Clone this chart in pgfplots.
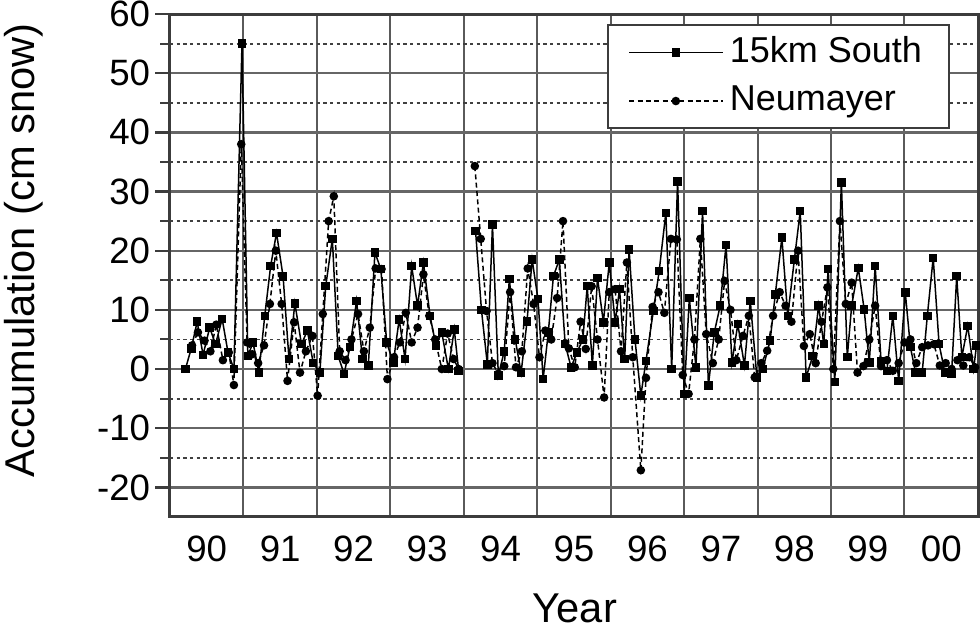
\documentclass[border=0pt]{standalone}
\usepackage{fontspec}
\setmainfont{Liberation Sans}
\usepackage{pgfplots}
\pgfplotsset{compat=1.18}
\definecolor{gridgray}{HTML}{5A5A5A}
\definecolor{framegray}{HTML}{3C3C3C}

\begin{document}
\begin{tikzpicture}
% picture frame: 980 x 630 px at 0.3pt per px
\path[use as bounding box] (-51pt,-33.9pt) rectangle (243pt,155.1pt);
\begin{axis}[
    scale only axis,
    width=242.4pt, height=150.9pt,
    xmin=1990, xmax=2001, ymin=-25, ymax=60,
    axis line style={framegray, line width=0.9pt},
    xtick={1990.5,1991.5,1992.5,1993.5,1994.5,1995.5,1996.5,1997.5,1998.5,1999.5,2000.5},
    xticklabels={90,91,92,93,94,95,96,97,98,99,00},
    minor xtick={1991,1992,...,2000},
    ytick={-20,-10,...,60},
    yticklabels={-20,-10,0,10,20,30,40,50,60},
    minor ytick={-15,-5,...,55},
    xmajorgrids=false, xminorgrids=true,
    ymajorgrids=true, yminorgrids=true,
    minor x grid style={gridgray, line width=0.6pt},
    major y grid style={gray!80!black, line width=0.7pt},
    minor y grid style={black!75, line width=0.55pt, dash pattern=on 1pt off 1pt},
    tick align=outside,
    xtick pos=bottom, ytick pos=left,
    xtick style={/pgfplots/major tick length=0pt},
    minor x tick style={/pgfplots/minor tick length=0pt},
    ytick style={framegray, line width=0.7pt, /pgfplots/major tick length=4.5pt},
    minor y tick style={framegray, line width=0.6pt, /pgfplots/minor tick length=3pt},
    /pgf/number format/assume math mode=true,
    ticklabel style={font=\fontsize{11}{13}\selectfont},
    yticklabel style={inner xsep=1.5pt},
    xticklabel style={yshift=2.1pt},
    xlabel={Year},
    ylabel={Accumulation (cm snow)},
    label style={font=\fontsize{12.5}{15}\selectfont},
    xlabel style={at={(axis description cs:0.501,-0.181)}, anchor=center, inner sep=1pt},
    ylabel style={at={(axis description cs:-0.181,0.53)}, anchor=center, rotate=0},
    unbounded coords=jump,
    legend style={at={(0.965,0.980)}, anchor=north east, draw=framegray,
        line width=0.6pt, font=\fontsize{10.8}{13}\selectfont,
        inner xsep=6pt, inner ysep=1.5pt, row sep=1.5pt, fill=white},
    legend cell align=left,
    legend image code/.code={\draw[mark repeat=2, mark phase=2, #1]
        plot coordinates {(0pt,0pt) (14pt,0pt) (28pt,0pt)};},
]
% 15km South
\addplot[black, line width=0.45pt, mark=square*, mark size=1.05pt,
    mark options={solid}] coordinates {
(1990.21,0.0) (1990.29,3.5) (1990.37,8.0) (1990.45,2.4) (1990.54,7.0)
(1990.62,4.2) (1990.71,8.5) (1990.79,2.8) (1990.87,0.0) (1990.98,55.0)
(1991.06,2.2) (1991.13,4.5) (1991.21,-0.6) (1991.29,9.0) (1991.37,17.4)
(1991.45,23.0) (1991.54,15.6) (1991.62,1.7) (1991.70,11.1) (1991.79,4.2)
(1991.87,6.5) (1991.95,1.0) (1992.04,-0.6) (1992.12,14.0) (1992.21,22.0)
(1992.29,2.2) (1992.37,-0.8) (1992.45,3.7) (1992.54,11.5) (1992.62,1.7)
(1992.70,0.6) (1992.79,19.7) (1992.87,16.9) (1992.95,4.5) (1993.04,1.1)
(1993.12,8.4) (1993.20,1.7) (1993.29,17.4) (1993.37,10.7) (1993.45,18.0)
(1993.54,9.0) (1993.62,4.0) (1993.70,6.2) (1993.79,0.0) (1993.87,6.7)
(1993.93,-0.3)
(1994.05,nan)
(1994.16,23.3) (1994.24,10.0) (1994.32,0.8) (1994.39,24.4) (1994.47,-1.1)
(1994.55,3.0) (1994.62,15.2) (1994.70,5.0) (1994.78,-0.6) (1994.86,8.0)
(1994.93,18.5) (1995.01,11.8) (1995.08,-1.7) (1995.15,6.2) (1995.22,15.7)
(1995.30,18.5) (1995.38,4.2) (1995.46,0.3) (1995.54,2.8) (1995.62,5.0)
(1995.68,14.0) (1995.75,0.6) (1995.82,15.4) (1995.90,7.9) (1995.98,18.0)
(1996.06,7.9) (1996.12,13.5) (1996.19,1.7) (1996.25,20.2) (1996.33,5.0)
(1996.41,-4.5) (1996.48,1.4) (1996.58,9.8) (1996.66,16.6) (1996.75,26.4)
(1996.83,0.0) (1996.91,31.7) (1997.00,-4.2) (1997.07,12.0) (1997.16,0.3)
(1997.25,26.7) (1997.33,-2.8) (1997.41,6.2) (1997.49,10.7) (1997.57,21.0)
(1997.65,1.1) (1997.73,7.6) (1997.82,0.6) (1997.90,11.5) (1997.99,-1.4)
(1998.07,0.0) (1998.17,4.8) (1998.24,12.6) (1998.33,22.2) (1998.41,9.0)
(1998.50,18.5) (1998.58,26.7) (1998.66,-1.4) (1998.75,2.2) (1998.83,10.7)
(1998.90,4.2) (1998.96,16.9) (1999.05,-2.2) (1999.14,31.5) (1999.22,2.0)
(1999.28,10.7) (1999.37,17.1) (1999.45,10.1) (1999.52,1.1) (1999.60,17.4)
(1999.68,1.4) (1999.76,-0.3) (1999.84,9.0) (1999.92,-2.0) (2000.01,12.9)
(2000.08,3.7) (2000.15,-0.6) (2000.24,-0.6) (2000.31,9.0) (2000.39,18.8)
(2000.47,4.2) (2000.55,-0.6) (2000.64,-0.8) (2000.71,15.7) (2000.78,2.0)
(2000.86,7.3) (2000.94,0.0) (2000.98,4.0)
};
\addlegendentry{15km South}
% Neumayer
\addplot[black, line width=0.45pt, dash pattern=on 1.5pt off 1pt,
    mark=*, mark size=1.05pt, mark options={solid}] coordinates {
(1990.30,4.0) (1990.38,6.2) (1990.47,4.8) (1990.55,3.0) (1990.63,7.5)
(1990.72,1.5) (1990.80,2.8) (1990.87,-2.7) (1990.97,38.0) (1991.05,4.5)
(1991.12,2.5) (1991.20,1.0) (1991.28,4.0) (1991.36,11.0) (1991.44,20.0)
(1991.52,11.0) (1991.60,-2.0) (1991.69,7.9) (1991.77,-0.6) (1991.85,3.0)
(1991.94,5.6) (1992.01,-4.5) (1992.08,9.3) (1992.16,25.0) (1992.23,29.2)
(1992.31,3.0) (1992.39,1.5) (1992.47,5.0) (1992.56,9.3) (1992.64,3.0)
(1992.72,7.0) (1992.80,17.0) (1992.88,16.9) (1992.96,-1.7) (1993.05,2.0)
(1993.13,4.5) (1993.21,9.5) (1993.29,4.5) (1993.37,7.0) (1993.45,16.0)
(1993.53,9.0) (1993.61,5.0) (1993.70,0.0) (1993.78,6.0) (1993.86,1.7)
(1993.93,0.0)
(1994.05,nan)
(1994.15,34.3) (1994.23,22.0) (1994.31,9.8) (1994.39,1.0) (1994.47,-0.8)
(1994.55,0.5) (1994.63,13.0) (1994.71,0.3) (1994.79,3.0) (1994.87,17.0)
(1994.95,11.0) (1995.03,2.0) (1995.11,6.5) (1995.19,5.0) (1995.27,12.0)
(1995.35,25.0) (1995.43,3.5) (1995.51,0.3) (1995.59,8.0) (1995.66,3.4)
(1995.74,14.0) (1995.82,5.0) (1995.91,-4.8) (1995.98,13.0) (1996.06,13.5)
(1996.14,3.0) (1996.22,18.0) (1996.30,2.0) (1996.41,-17.1) (1996.48,-1.5)
(1996.57,10.5) (1996.65,13.0) (1996.73,9.5) (1996.82,22.0) (1996.90,21.9)
(1996.98,-1.0) (1997.06,-4.2) (1997.14,5.0) (1997.22,22.0) (1997.30,5.9)
(1997.39,1.0) (1997.47,5.0) (1997.55,14.9) (1997.63,10.0) (1997.71,1.5)
(1997.80,5.6) (1997.88,9.0) (1997.96,-1.4) (1998.05,1.0) (1998.13,3.1)
(1998.21,9.0) (1998.30,13.0) (1998.38,10.7) (1998.46,8.0) (1998.55,20.0)
(1998.63,3.9) (1998.71,5.9) (1998.79,1.0) (1998.87,8.0) (1998.95,13.8)
(1999.03,0.0) (1999.12,25.0) (1999.20,11.0) (1999.28,14.6) (1999.36,-0.6)
(1999.44,0.5) (1999.52,5.0) (1999.60,10.7) (1999.68,0.5) (1999.76,1.5)
(1999.84,-0.3) (1999.92,1.0) (2000.00,4.5) (2000.08,5.0) (2000.16,1.0)
(2000.24,3.7) (2000.32,4.0) (2000.40,4.2) (2000.48,0.6) (2000.56,1.0)
(2000.64,0.0) (2000.72,1.5) (2000.80,0.6) (2000.88,2.0) (2000.96,0.3)
};
\addlegendentry{Neumayer}
\end{axis}
\end{tikzpicture}
\end{document}
